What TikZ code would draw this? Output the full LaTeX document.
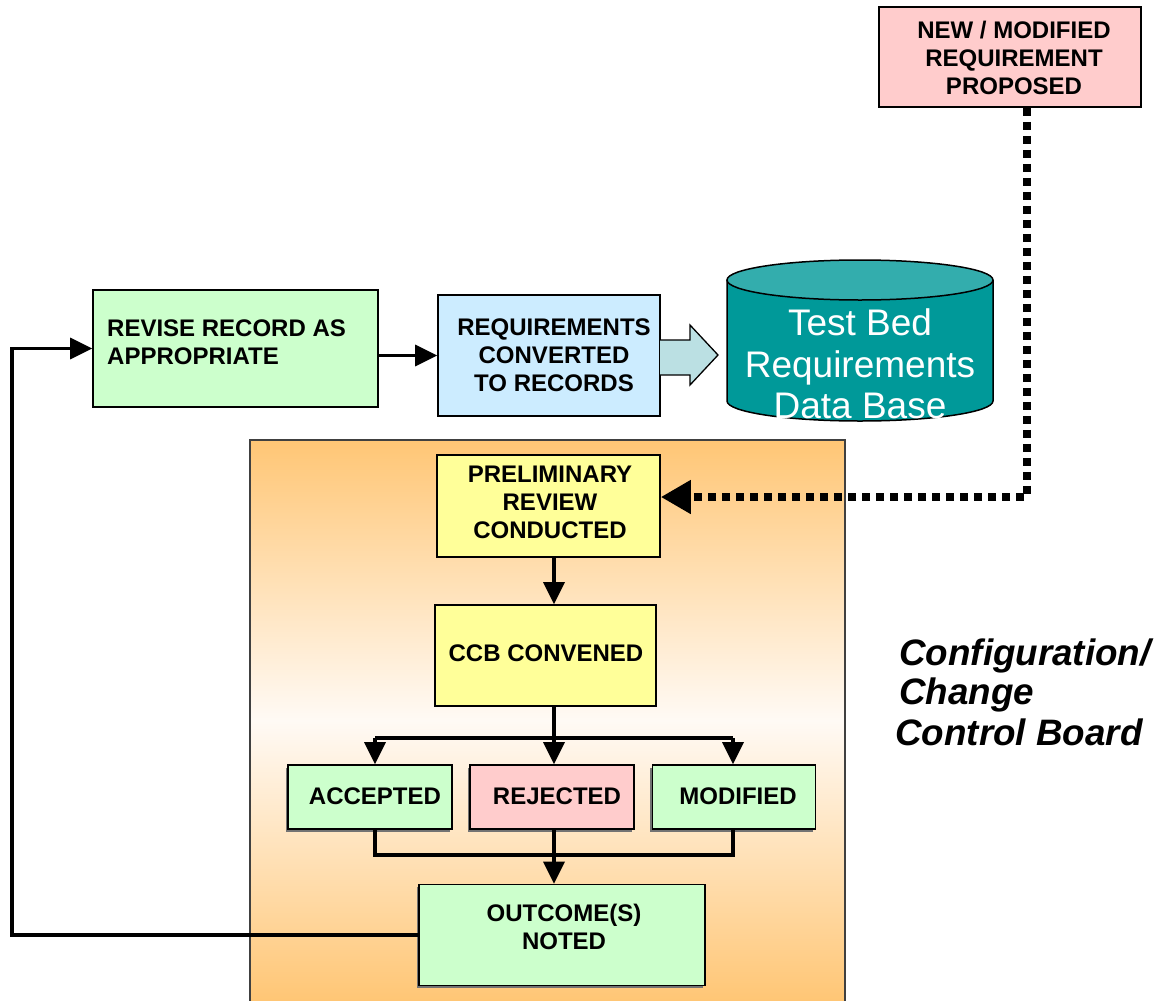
\documentclass[tikz,border=0pt]{standalone}
\usepackage{fontspec}
\setmainfont{Liberation Sans}
\usetikzlibrary{arrows.meta,shadows}

\definecolor{pinkc}{HTML}{FFCCCC}
\definecolor{greenc}{HTML}{CCFFCC}
\definecolor{bluec}{HTML}{CCECFF}
\definecolor{yellowc}{HTML}{FFFF99}
\definecolor{dbbody}{HTML}{009999}
\definecolor{dbtop}{HTML}{33ADAD}
\definecolor{blockarrow}{HTML}{BBE0E3}
\definecolor{panelorange}{HTML}{FFC675}
\definecolor{panelmid}{HTML}{FFFAF5}
\definecolor{panelline}{HTML}{404040}

\newcommand\boxfont{\fontsize{24}{28}\selectfont\bfseries}

\tikzset{
  box/.style={draw=black, line width=1.6pt, font=\boxfont, align=center, inner sep=0pt},
  shadowed/.style={drop shadow={shadow xshift=-2.5pt, shadow yshift=-2.5pt, fill=black!55, opacity=1}},
  boxtext/.style={font=\boxfont, inner sep=0pt},
  link/.style={line width=3.5pt},
  linkarrow/.style={line width=3.5pt, -{Triangle[length=22pt,width=21pt]}},
  dotlink/.style={line width=7.5pt, dash pattern=on 8pt off 6pt, -{Triangle[length=30pt,width=32pt]}},
  boardtext/.style={font=\fontsize{36.8}{42}\selectfont\bfseries\itshape, anchor=base west, inner sep=0pt}
}

\begin{document}
\begin{tikzpicture}[x=1pt,y=-1pt]
\useasboundingbox (0,0) rectangle (1162,1001);

% Configuration / Change Control Board panel: orange fading to white in the middle
\shade[top color=panelorange, bottom color=panelorange, middle color=panelmid]
  (250,440) rectangle (845,1001);
\draw[panelline, line width=1.5pt] (250,1001) -- (250,440) -- (845,440) -- (845,1001);

% proposal box
\node[box, fill=pinkc, minimum width=262pt, minimum height=100pt] (new) at (1010,57) {};
\node[boxtext, align=center] (newtext) at (1014,58) {NEW / MODIFIED\\REQUIREMENT\\PROPOSED};

% top row
\node[box, fill=greenc, minimum width=285pt, minimum height=117pt] (revise) at (235.5,348.5) {};
\node[boxtext, anchor=west, align=left] (revisetext) at (107,342) {REVISE RECORD AS\\APPROPRIATE};

\node[box, fill=bluec, minimum width=222pt, minimum height=121pt] (req) at (549,355.5) {};
\node[boxtext, align=center] (reqtext) at (554,355.5) {REQUIREMENTS\\CONVERTED\\TO RECORDS};

% block arrow into the data base
\fill[blockarrow] (660,340) -- (690,340) -- (690,325) -- (718,355) -- (690,385) -- (690,375) -- (660,375) -- cycle;
\draw[line width=1.3pt, line join=miter] (660,340) -- (690,340) -- (690,325) -- (718,355) -- (690,385) -- (690,375) -- (660,375);

% data base cylinder
\fill[dbbody] (727,280) -- (727,401) arc[start angle=180, end angle=360, x radius=133pt, y radius=20pt] -- (993,280) -- cycle;
\draw[line width=1.5pt] (727,280) -- (727,401) arc[start angle=180, end angle=360, x radius=133pt, y radius=20pt] -- (993,280);
\filldraw[fill=dbtop, line width=1.5pt] (860,280) ellipse[x radius=133pt, y radius=20pt];
\node[text=white, font=\fontsize{37}{41.5}\selectfont, align=center, inner sep=0pt] (db) at (860,364)
  {Test Bed\\Requirements\\Data Base};

% board steps
\node[box, fill=yellowc, minimum width=223pt, minimum height=102pt] (prelim) at (548.5,506) {};
\node[boxtext, align=center] (prelimtext) at (550,502) {PRELIMINARY\\REVIEW\\CONDUCTED};

\node[box, fill=yellowc, minimum width=221pt, minimum height=101pt] (ccb) at (545.5,655.5) {};
\node[boxtext] (ccbtext) at (546,653) {CCB CONVENED};

\node[box, shadowed, fill=greenc, minimum width=164pt, minimum height=64pt] (acc) at (370,797) {};
\node[boxtext] (acctext) at (375,796) {ACCEPTED};
\node[box, shadowed, fill=pinkc, minimum width=164pt, minimum height=64pt] (rej) at (552,797) {};
\node[boxtext] (rejtext) at (557,796) {REJECTED};
\node[box, shadowed, fill=greenc, minimum width=163pt, minimum height=64pt] (mod) at (734,797) {};
\node[boxtext] (modtext) at (738,796) {MODIFIED};

\node[box, shadowed, fill=greenc, minimum width=286pt, minimum height=101pt] (outcome) at (562,935) {};
\node[boxtext, align=center] (outcometext) at (564,927) {OUTCOME(S)\\NOTED};

% board caption
\node[boardtext] (cap1) at (899,665) {Configuration/};
\node[boardtext] (cap2) at (899,704) {Change};
\node[boardtext] (cap3) at (895,745) {Control Board};

% routing columns and rows
\coordinate (spine) at (554,0);
\coordinate (ca) at (375,738);
\coordinate (cm) at (733,738);
\coordinate (merge) at (0,855);
\coordinate (loop) at (12,0);
\coordinate (dotcol) at (1027,0);
\coordinate (dotrow) at (0,497);

% connectors
\draw[linkarrow] (revise.east |- req.west) -- (req.west);
\draw[linkarrow] (prelim.south -| spine) -- (ccb.north -| spine);
\draw[link] (ccb.south -| spine) -- (ca -| spine);
\draw[link] (ca) -- (cm);
\draw[linkarrow] (ca) -- (acc.north -| ca);
\draw[linkarrow] (ca -| spine) -- (rej.north -| spine);
\draw[linkarrow] (cm) -- (mod.north -| cm);
\draw[link] (acc.south -| ca) -- (merge -| ca) -- (merge -| cm) -- (mod.south -| cm);
\draw[linkarrow] (rej.south -| spine) -- (outcome.north -| spine);
\draw[linkarrow] (outcome.west) -- (outcome.west -| loop) -- (revise.west -| loop) -- (revise.west);
\draw[dotlink] (new.south -| dotcol) -- (dotrow -| dotcol) -- (prelim.east |- dotrow);

\end{tikzpicture}
\end{document}
